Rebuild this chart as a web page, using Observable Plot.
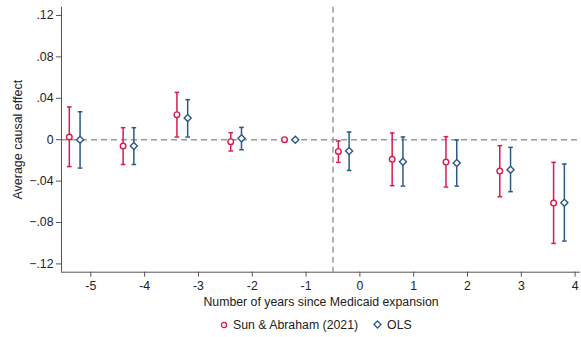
<!DOCTYPE html>
<html>
<head>
<meta charset="utf-8">
<script src="https://cdn.jsdelivr.net/npm/d3@7"></script>
<script src="https://cdn.jsdelivr.net/npm/@observablehq/plot@0.6"></script>
<style>
  html, body { margin: 0; padding: 0; background: #fff; }
  #chart { width: 581px; font-family: "Liberation Sans", Arial, sans-serif; }
  .legend { height: 25px; display: flex; align-items: center; font-size: 12.3px; color: #222; padding-left: 220px; }
  .legend .item { display: flex; align-items: center; margin-right: 15px; }
  .legend svg { margin-right: 5px; }
</style>
</head>
<body>
<div id="chart"></div>
<script>
// Event time (years since Medicaid expansion)
const periods = [-5, -4, -3, -2, -1, 0, 1, 2, 3, 4];
// Sun & Abraham (2021) estimates and 95% CI
const saEst = [0.0026, -0.0061, 0.0242, -0.0019, 0, -0.0113, -0.0190, -0.0216, -0.0303, -0.0612];
const saLo  = [-0.0260, -0.0240, 0.0026, -0.0109, 0, -0.0219, -0.0444, -0.0457, -0.0551, -0.1002];
const saHi  = [0.0316, 0.0116, 0.0457, 0.0068, 0, -0.0013, 0.0065, 0.0029, -0.0058, -0.0219];
// OLS estimates and 95% CI
const olsEst = [0.0000, -0.0061, 0.0210, 0.0013, 0, -0.0109, -0.0213, -0.0225, -0.0290, -0.0609];
const olsLo  = [-0.0274, -0.0240, 0.0026, -0.0097, 0, -0.0297, -0.0448, -0.0448, -0.0502, -0.0979];
const olsHi  = [0.0270, 0.0116, 0.0387, 0.0119, 0, 0.0074, 0.0026, -0.0003, -0.0074, -0.0235];
// Ticks and labels
const xTicks = [-5, -4, -3, -2, -1, 0, 1, 2, 3, 4];
const yTicks = [-0.12, -0.08, -0.04, 0, 0.04, 0.08, 0.12];
const seriesNames = ["Sun & Abraham (2021)", "OLS"];
const seriesColors = ["#d81b4b", "#2c5985"];
const xTitle = "Number of years since Medicaid expansion";
const yTitle = "Average causal effect";
const treatmentLine = -0.5;

const offsets = [-0.4, -0.2];
const rows = [];
periods.forEach((t, i) => {
  rows.push({series: seriesNames[0], x: t + offsets[0], est: saEst[i], lo: saLo[i], hi: saHi[i]});
  rows.push({series: seriesNames[1], x: t + offsets[1], est: olsEst[i], lo: olsLo[i], hi: olsHi[i]});
});
const ciRows = rows.filter(d => d.hi !== d.lo);

const capSymbol = {draw(ctx) { ctx.moveTo(-2.3, 0); ctx.lineTo(2.3, 0); }};
const fmtY = d => d === 0 ? "0" : d3.format(".2f")(d).replace("0.", ".");
const xDomain = [-5.545, 4.10];
const yDomain = [-0.128, 0.128];
const axisColor = "#555";

const plot = Plot.plot({
  width: 581,
  height: 312,
  marginLeft: 61,
  marginRight: 1,
  marginTop: 6.7,
  marginBottom: 40.3,
  style: {fontFamily: "Liberation Sans, Arial, sans-serif", fontSize: "12px", color: "#222", background: "#fff"},
  x: {domain: xDomain},
  y: {domain: yDomain},
  color: {domain: seriesNames, range: seriesColors},
  marks: [
    Plot.ruleY([0], {stroke: "#9a9a9a", strokeWidth: 1.5, strokeDasharray: "6,4"}),
    Plot.ruleX([treatmentLine], {stroke: "#9a9a9a", strokeWidth: 1.5, strokeDasharray: "6,4"}),
    Plot.ruleX(ciRows, {x: "x", y1: "lo", y2: "hi", stroke: "series", strokeWidth: 1.5}),
    Plot.dot(ciRows, {x: "x", y: "lo", symbol: capSymbol, stroke: "series", strokeWidth: 1.5}),
    Plot.dot(ciRows, {x: "x", y: "hi", symbol: capSymbol, stroke: "series", strokeWidth: 1.5}),
    Plot.dot(rows.filter(d => d.series === seriesNames[0]), {x: "x", y: "est", r: 2.8, symbol: "circle", stroke: "series", fill: "white", strokeWidth: 1.4}),
    Plot.dot(rows.filter(d => d.series === seriesNames[1]), {x: "x", y: "est", r: 3.2, symbol: "diamond2", stroke: "series", fill: "white", strokeWidth: 1.4}),
    Plot.axisX({ticks: xTicks, tickFormat: d => String(d), tickSize: 5, tickPadding: 4.5, stroke: axisColor, label: null, fontSize: 12.3}),
    Plot.axisY({ticks: yTicks, tickFormat: fmtY, tickSize: 5, tickPadding: 3, stroke: axisColor, label: null, fontSize: 12.3}),
    Plot.ruleX([xDomain[0]], {stroke: axisColor, strokeWidth: 1}),
    Plot.ruleY([yDomain[0]], {stroke: axisColor, strokeWidth: 1}),
    Plot.text([xTitle], {frameAnchor: "bottom", dy: 29.5, text: d => d, fontSize: 12.3, fill: "#222", lineAnchor: "middle", textAnchor: "middle"}),
    Plot.text([yTitle], {frameAnchor: "left", dx: -43.5, rotate: -90, text: d => d, fontSize: 12.5, fill: "#222", lineAnchor: "middle", textAnchor: "middle"})
  ]
});
document.getElementById("chart").appendChild(plot);

const legend = document.createElement("div");
legend.className = "legend";
const icons = [
  c => `<svg width="8" height="8"><circle cx="4" cy="4" r="2.6" fill="white" stroke="${c}" stroke-width="1.3"/></svg>`,
  c => `<svg width="9" height="9"><path d="M4.5,1 L8,4.5 L4.5,8 L1,4.5 Z" fill="white" stroke="${c}" stroke-width="1.3"/></svg>`
];
seriesNames.forEach((n, i) => {
  const item = document.createElement("div");
  item.className = "item";
  item.innerHTML = icons[i](seriesColors[i]) + `<span>${n}</span>`;
  legend.appendChild(item);
});
document.getElementById("chart").appendChild(legend);
</script>
</body>
</html>
